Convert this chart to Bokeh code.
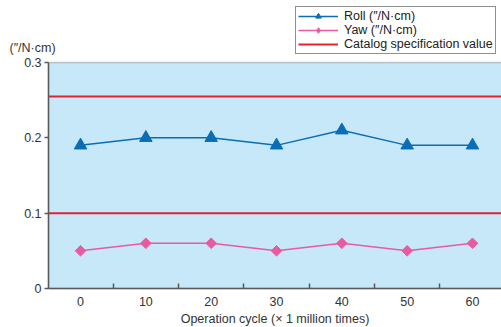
import math
from bokeh.plotting import figure
from bokeh.models import (Legend, LegendItem, FixedTicker, Range1d, ColumnDataSource,
                          BoxAnnotation, Label, LinearAxis)
from bokeh.embed import file_html
from bokeh.resources import INLINE

cycles = [0, 10, 20, 30, 40, 50, 60]
roll = [0.19, 0.20, 0.20, 0.19, 0.21, 0.19, 0.19]
yaw = [0.05, 0.06, 0.06, 0.05, 0.06, 0.05, 0.06]
spec_values = [0.255, 0.10]
y_ticks = [0, 0.1, 0.2, 0.3]
x_minor = [5, 15, 25, 35, 45, 55]
unit_text = "(″/N·cm)"
x_title = "Operation cycle (× 1 million times)"
labels = ["Roll (″/N·cm)", "Yaw (″/N·cm)", "Catalog specification value"]

# axis extents (data units)
x_lo, x_hi = -4.9, 64.44
y_lo, y_hi = 0.0, 0.3

FONT = "Liberation Sans"
FS = "12.5px"
BLUE = "#0b6db5"
PINK = "#ea5aa0"
RED = "#e4222c"
BG = "#c6e8f8"
AX = "#5a5a5a"
TXT = "#333333"

p = figure(width=501, height=327, output_backend="svg", toolbar_location=None,
           x_range=Range1d(-12.25, x_hi), y_range=Range1d(-0.0518, 0.3823),
           x_axis_location=None, y_axis_location=None,
           min_border_left=0, min_border_right=0, min_border_top=0, min_border_bottom=0)
p.title.visible = False
p.background_fill_color = "white"
p.border_fill_color = "white"
p.outline_line_color = None
p.grid.visible = False

# plot area background (right edge runs past the window)
p.add_layout(BoxAnnotation(left=x_lo, right=x_hi + 2, bottom=y_lo, top=y_hi, fill_color=BG,
                           fill_alpha=1, line_color=AX, line_width=1.5, level="underlay"))

spec_r = p.ray(x=[x_lo] * len(spec_values), y=spec_values, length=0, angle=0,
               line_color=RED, line_width=2)

src = ColumnDataSource(dict(x=cycles, roll=roll, yaw=yaw))
r1 = p.line("x", "roll", source=src, line_color=BLUE, line_width=1.5)
r1m = p.scatter("x", "roll", source=src, marker="triangle", size=12.5, fill_color=BLUE, line_color=BLUE)
r2 = p.line("x", "yaw", source=src, line_color=PINK, line_width=1.5)
r2m = p.scatter("x", "yaw", source=src, marker="square", angle=math.pi / 4, size=7.5,
                fill_color=PINK, line_color=PINK)
# hidden diamond renderer used only for the legend key
r2k = p.scatter("x", "yaw", source=src, marker="diamond", size=12, fill_color=PINK,
                line_color=PINK, visible=False)

xa = LinearAxis(bounds=(x_lo, x_hi), fixed_location=y_lo)
xa.ticker = FixedTicker(ticks=cycles, minor_ticks=x_minor)
xa.major_tick_line_color = None
xa.major_tick_in = 0
xa.major_tick_out = 0
xa.minor_tick_in = 5
xa.minor_tick_out = 0
xa.minor_tick_line_color = AX
xa.minor_tick_line_width = 1.5
xa.axis_line_color = AX
xa.axis_line_width = 1.5
xa.major_label_text_font = FONT
xa.major_label_text_font_size = FS
xa.major_label_text_color = TXT
xa.major_label_standoff = 9
xa.axis_label = x_title
xa.axis_label_text_font = FONT
xa.axis_label_text_font_size = FS
xa.axis_label_text_font_style = "normal"
xa.axis_label_text_color = TXT
xa.axis_label_standoff = 2
p.add_layout(xa, "below")

ya = LinearAxis(bounds=(y_lo, y_hi), fixed_location=x_lo)
ya.ticker = FixedTicker(ticks=y_ticks, minor_ticks=[])
ya.major_label_overrides = {0: "0", 0.1: "0.1", 0.2: "0.2", 0.3: "0.3"}
ya.major_tick_in = 0
ya.major_tick_out = 4
ya.major_tick_line_color = AX
ya.major_tick_line_width = 1.5
ya.axis_line_color = AX
ya.axis_line_width = 1.5
ya.major_label_text_font = FONT
ya.major_label_text_font_size = FS
ya.major_label_text_color = TXT
ya.major_label_standoff = 3
p.add_layout(ya, "left")

p.add_layout(Label(x=9, y=327 - 47, x_units="screen", y_units="screen", text=unit_text,
                   text_baseline="middle", text_font=FONT, text_font_size=FS,
                   text_color=TXT))

legend = Legend(items=[
    LegendItem(label=labels[0], renderers=[r1, r1m]),
    LegendItem(label=labels[1], renderers=[r2, r2k]),
    LegendItem(label=labels[2], renderers=[spec_r]),
], location=(295, 327 - 54))
legend.label_text_font = FONT
legend.label_text_font_size = FS
legend.label_text_color = "#222222"
legend.label_height = 14
legend.glyph_height = 14
legend.glyph_width = 40
legend.spacing = 0
legend.padding = 2
legend.margin = 0
legend.label_standoff = 6
legend.border_line_color = "#222222"
legend.border_line_width = 1
legend.background_fill_color = "white"
legend.background_fill_alpha = 1
legend.inactive_fill_alpha = 0
p.add_layout(legend, "center")

open("out.html", "w").write(file_html(p, INLINE))
